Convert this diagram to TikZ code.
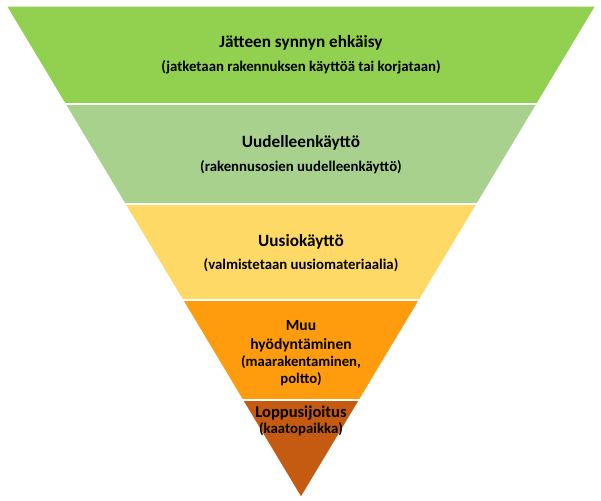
\documentclass[tikz,border=0pt]{standalone}
\usepackage{fontspec}
\setmainfont{Carlito}[BoldFont={Carlito Bold}]
\usepackage{xcolor}
\usepackage{tikz}
\definecolor{greenA}{HTML}{92D050}
\definecolor{greenB}{HTML}{A9D18E}
\definecolor{yellowC}{HTML}{FFD966}
\definecolor{orangeD}{HTML}{FE9C0E}
\definecolor{brownE}{HTML}{C55A11}
\begin{document}
\begin{tikzpicture}[x=1pt,y=-1pt,
	band/.style={draw=white,line width=1.5pt,line join=round},
	title/.style={font=\bfseries\fontsize{17.2}{20}\selectfont,inner sep=0pt,anchor=base},
	sub/.style={font=\bfseries\fontsize{14.8}{18}\selectfont,inner sep=0pt,anchor=base},
	midtitle/.style={font=\bfseries\fontsize{15.5}{19}\selectfont,inner sep=0pt,anchor=base}]
	         \useasboundingbox (0,0) rectangle (601,500);
	         % the five bands of the pyramid
	         \fill[band,fill=greenA] (6,6) -- (596,6) -- (537.2,104) -- (64.8,104) -- cycle;
	         \fill[band,fill=greenB] (64.8,104) -- (537.2,104) -- (477.3,204) -- (124.7,204) -- cycle;
	         \fill[band,fill=yellowC] (124.7,204) -- (477.3,204) -- (419.7,300) -- (182.3,300) -- cycle;
	         \fill[band,fill=orangeD] (182.3,300) -- (419.7,300) -- (359.8,400) -- (242.2,400) -- cycle;
	         \fill[band,fill=brownE] (242.2,400) -- (359.8,400) -- (301,498) -- cycle;
	         \draw[band] (64.8,104) -- (537.2,104);
	         \draw[band] (124.7,204) -- (477.3,204);
	         \draw[band] (182.3,300) -- (419.7,300);
	         \draw[band] (242.2,400) -- (359.8,400);
	         % texts, placed on their baselines
	         \node[title] (t1) at (301,47.7) {Jätteen synnyn ehkäisy};
	         \node[sub] (s1) at (301,71.7) {(jatketaan rakennuksen käyttöä tai korjataan)};
	         \node[title] (t2) at (301,147.7) {Uudelleenkäyttö};
	         \node[sub] (s2) at (301,171) {(rakennusosien uudelleenkäyttö)};
	         \node[title] (t3) at (301,246.7) {Uusiokäyttö};
	         \node[sub] (s3) at (301,269.5) {(valmistetaan uusiomateriaalia)};
	         \node[midtitle] (t4a) at (301,330) {Muu};
	         \node[midtitle] (t4b) at (301,349.3) {hyödyntäminen};
	         \node[sub,font=\bfseries\fontsize{14.7}{18}\selectfont] (s4a) at (301,366.7) {(maarakentaminen,};
	         \node[sub,font=\bfseries\fontsize{14.7}{18}\selectfont] (s4b) at (301,383.3) {poltto)};
	         \node[midtitle,font=\bfseries\fontsize{16.5}{19}\selectfont] (t5) at (301,417.7) {Loppusijoitus};
	         \node[sub] (s5) at (301,433.3) {(kaatopaikka)};
	     \end{tikzpicture}
\end{document}
